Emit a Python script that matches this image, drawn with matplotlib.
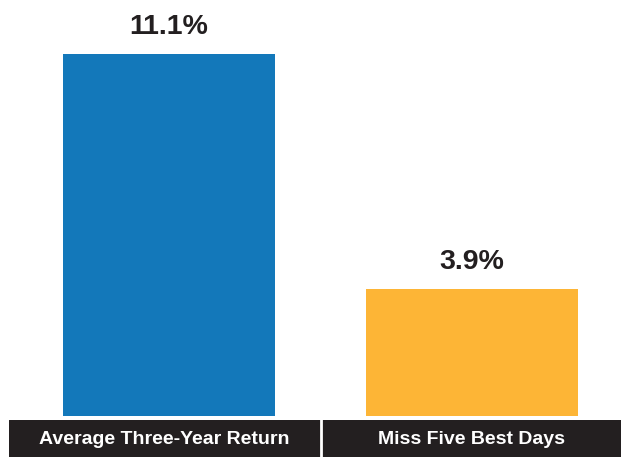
import matplotlib.pyplot as plt

categories = ['Average Three-Year Return', 'Miss Five Best Days']
values = [11.1, 3.9]
colors = ['#1378BA', '#FDB536']

W, H = 621, 457
fig = plt.figure(figsize=(W / 100, H / 100), dpi=100)

# main bar axes, x in category units (303 px per unit, category 0 at 169 px)
ax = fig.add_axes([0, 41 / H, 1, 1 - 41 / H])
ax.set_xlim(-169 / 303, (W - 169) / 303)
ax.set_ylim(0, (H - 41) / 32.6)
x = range(len(categories))
bars = ax.bar(x, values, width=212 / 303, color=colors)
for b, v in zip(bars, values):
    ax.annotate(f'{v:.1f}%', (b.get_x() + b.get_width() / 2, v),
                xytext=(0, 10), textcoords='offset points', ha='center', va='bottom',
                fontsize=20.5, fontweight='bold', color='#231F20', family='Liberation Sans')
ax.axis('off')

# dark label band
ax2 = fig.add_axes([9 / W, 0, 1 - 9 / W, 37 / H])
ax2.set_xlim(-160 / 303, (W - 169) / 303)
ax2.set_ylim(0, 1)
ax2.axvspan(*ax2.get_xlim(), color='#231F20')
ax2.axvline(0.5, color='white', lw=2)
for i, c in enumerate(categories):
    ax2.text(i - 0.015 * (i == 0), 0.47, c, ha='center', va='center', color='white',
             fontsize=14, fontweight='bold', family='Liberation Sans')
ax2.axis('off')

fig.savefig('out.png', dpi=100)
